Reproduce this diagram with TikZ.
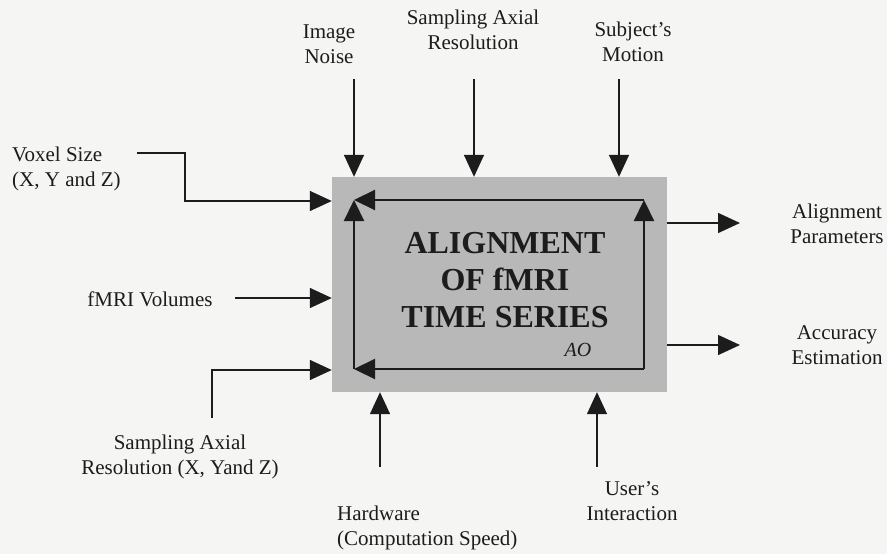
\documentclass[tikz,border=0pt]{standalone}
\usepackage{fontspec}
\setmainfont{Liberation Serif}
\usetikzlibrary{arrows.meta,positioning,calc}
\definecolor{boxgray}{RGB}{184,184,184}
\definecolor{papercol}{RGB}{245,245,243}
\definecolor{inkcol}{RGB}{28,28,28}
\tikzset{
  idef label/.style={align=center,font=\fontsize{21}{25}\selectfont,text=inkcol,inner sep=0pt},
  idef box/.style={rectangle,fill=boxgray,minimum width=335pt,minimum height=215pt,inner sep=0pt},
  idef title/.style={align=center,font=\fontsize{32}{37}\selectfont\bfseries,text=inkcol,inner sep=0pt},
  idef arrow/.style={-{Triangle[length=22pt,width=20pt]},line width=1.5pt,draw=inkcol},
  idef loop/.style={-{Triangle[length=21pt,width=20pt]},line width=2.2pt,draw=inkcol}
}
\begin{document}
\begin{tikzpicture}[x=1pt,y=-1pt]
  \fill[papercol] (0,0) rectangle (887,554);
  \useasboundingbox (0,0) rectangle (887,554);
  % activity box
  \node[idef box] (ao) at (499.5,284.5) {};
  \node[idef title] (aotitle) at (505,280) {ALIGNMENT\\OF fMRI\\TIME SERIES};
  \node[font=\fontsize{20}{24}\selectfont\itshape,text=inkcol,inner sep=0pt] (aoid) at (578,350) {AO};
  % feedback loop inside the box
  \coordinate (lpNW) at (354,200); \coordinate (lpNE) at (644,200);
  \coordinate (lpSW) at (354,369); \coordinate (lpSE) at (644,369);
  \draw[idef loop] (lpSE) -- (lpSW);
  \draw[idef loop] (lpSW) -- (lpNW);
  \draw[idef loop] (lpNE) -- (lpNW);
  \draw[idef loop] (lpSE) -- (lpNE);
  % controls (top)
  \node[idef label] (noise) at (329,44) {Image\\Noise};
  \node[idef label] (samp) at (473,30) {Sampling Axial\\Resolution};
  \node[idef label] (motion) at (633,42) {Subject’s\\Motion};
  \foreach \nm/\xx in {noise/354, samp/474, motion/619}{
    \coordinate (\nm T) at (\xx,79);
    \draw[idef arrow] (\nm T) -- (\nm T |- ao.north);
  }
  % inputs (left)
  \node[idef label,align=left,anchor=west] (voxel) at (12,169) {Voxel Size\\(X, Y and Z)};
  \node[idef label] (vols) at (150,299) {fMRI Volumes};
  \node[idef label] (res) at (180,457) {Sampling Axial\\Resolution (X, Yand Z)};
  \coordinate (voxT) at (137,153); \coordinate (voxK) at (185,201);
  \draw[idef arrow] (voxT) -| (voxK) -- (voxK -| ao.west);
  \coordinate (volT) at (235,298);
  \draw[idef arrow] (volT) -- (volT -| ao.west);
  \coordinate (resT) at (212,418); \coordinate (resK) at (212,370);
  \draw[idef arrow] (resT) -- (resK) -- (resK -| ao.west);
  % mechanisms (bottom)
  \node[idef label,align=left,anchor=west] (hw) at (337,528) {Hardware\\(Computation Speed)};
  \node[idef label] (user) at (632,501) {User’s\\Interaction};
  \foreach \nm/\xx in {hw/380, user/597}{
    \coordinate (\nm T) at (\xx,467);
    \draw[idef arrow] (\nm T) -- (\nm T |- ao.south);
  }
  % outputs (right)
  \node[idef label] (params) at (837,224) {Alignment\\Parameters};
  \node[idef label] (accur) at (837,345) {Accuracy\\Estimation};
  \foreach \nm/\yy in {params/223, accur/345}{
    \coordinate (\nm H) at (740,\yy);
    \draw[idef arrow] (\nm H -| ao.east) -- (\nm H);
  }
\end{tikzpicture}
\end{document}
